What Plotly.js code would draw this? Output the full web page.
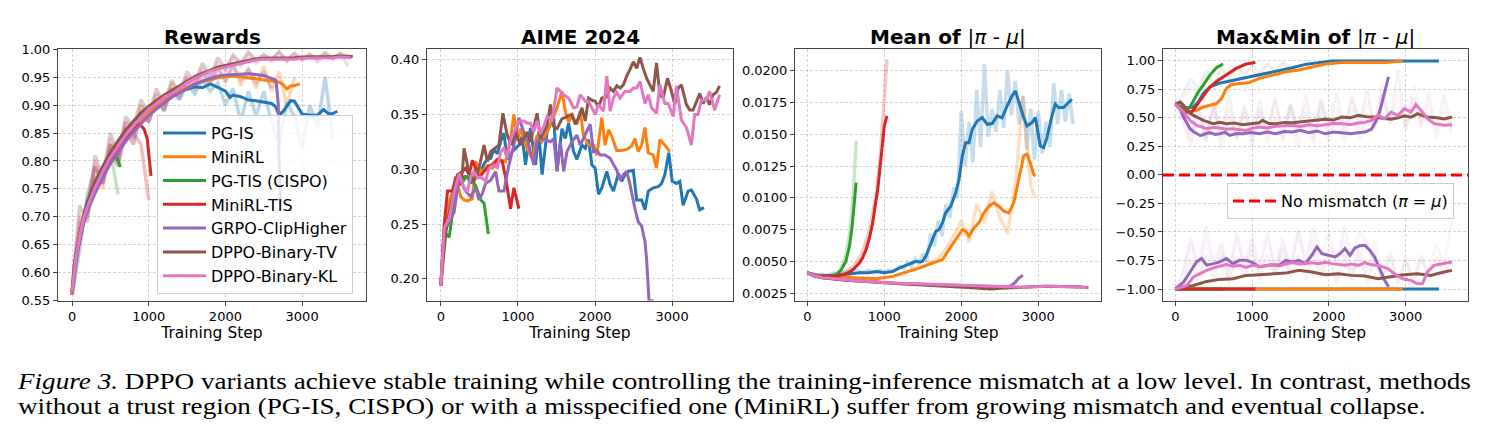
<!DOCTYPE html>
<html>
<head>
<meta charset="utf-8">
<script src="https://cdn.plot.ly/plotly-3.0.1.min.js"></script>
<style>
  html, body { margin: 0; padding: 0; background: #fff; }
  #wrap { position: relative; width: 1491px; height: 440px; overflow: hidden; }
  #chart { width: 1491px; height: 440px; }
  #caption {
    position: absolute; left: 18px; top: 369px;
    font-family: 'Liberation Serif', 'Times New Roman', serif; font-size: 23px; line-height: 25px;
    color: #000; white-space: nowrap;
    transform: scaleX(1.18); transform-origin: 0 0;
  }
</style>
</head>
<body>
<div id="wrap">
  <div id="chart"></div>
  <div id="caption"></div>
</div>
<script>
// ---------- helpers for step grids (x positions only) ----------
const grid = (a, b, d) => { const s = []; for (let v = a; v <= b + 1e-9; v += d) s.push(v); return s; };
const EARLY = [0, 25, 50, 100, 150, 200];

// ---------- methods ----------
const METHODS = ['PG-IS', 'MiniRL', 'PG-TIS (CISPO)', 'MiniRL-TIS', 'GRPO-ClipHigher', 'DPPO-Binary-TV', 'DPPO-Binary-KL'];
const COLORS  = ['#1f77b4', '#ff7f0e', '#2ca02c', '#d62728', '#9467bd', '#8c564b', '#e377c2'];

// ---------- Rewards: smoothed ----------
const rwStepPGIS = EARLY.concat(grid(300, 2000, 100), [2060, 2100, 2200, 2300, 2400, 2500, 2600, 2650, 2700, 2760, 2850, 2900, 2960, 3000, 3100, 3200, 3280, 3350, 3400, 3460]);
const rwPGIS = [0.565, 0.597, 0.622, 0.658, 0.690, 0.712, 0.746, 0.774, 0.799, 0.820, 0.840, 0.857, 0.873, 0.887, 0.899, 0.909, 0.918, 0.924, 0.929, 0.933, 0.931, 0.938, 0.932, 0.925,
  0.914, 0.918, 0.915, 0.909, 0.908, 0.906, 0.903, 0.898, 0.882, 0.890, 0.908, 0.907, 0.893, 0.884, 0.882, 0.882, 0.892, 0.884, 0.885, 0.889];
const rwStepMiniRL = EARLY.concat(grid(300, 2700, 100), [2750, 2800, 2850, 2900, 2970]);
const rwMiniRL = [0.565, 0.600, 0.625, 0.660, 0.692, 0.714, 0.748, 0.776, 0.800, 0.821, 0.840, 0.857, 0.872, 0.886, 0.898, 0.908, 0.916, 0.925, 0.932, 0.938, 0.942, 0.946, 0.949, 0.951,
  0.952, 0.951, 0.949, 0.947, 0.946, 0.944, 0.941, 0.937, 0.929, 0.934, 0.935, 0.938];
const rwStepCISPO = EARLY.concat([300, 400, 500, 560, 600, 630]);
const rwCISPO = [0.565, 0.600, 0.625, 0.660, 0.692, 0.714, 0.748, 0.776, 0.800, 0.814, 0.800, 0.789];
const rwStepMiniRLTIS = EARLY.concat([300, 400, 500, 600, 700, 800, 880, 940, 980, 1010, 1030]);
const rwMiniRLTIS = [0.565, 0.600, 0.625, 0.660, 0.692, 0.714, 0.749, 0.778, 0.803, 0.825, 0.843, 0.859, 0.866, 0.857, 0.840, 0.800, 0.773];
const rwStepGRPO = EARLY.concat(grid(300, 2600, 100), [2660, 2690, 2700, 2720]);
const rwGRPO = [0.565, 0.595, 0.620, 0.657, 0.688, 0.710, 0.742, 0.770, 0.795, 0.815, 0.835, 0.852, 0.867, 0.881, 0.893, 0.904, 0.914, 0.922, 0.930, 0.937, 0.943, 0.948, 0.952, 0.954,
  0.955, 0.956, 0.956, 0.955, 0.953, 0.948, 0.944, 0.900, 0.800, 0.720];
const rwStepTV = EARLY.concat(grid(300, 3600, 100), [3660]);
const rwTV = [0.565, 0.610, 0.635, 0.672, 0.703, 0.727, 0.762, 0.790, 0.815, 0.836, 0.855, 0.871, 0.886, 0.898, 0.908, 0.918, 0.926, 0.934, 0.943, 0.951, 0.957, 0.963, 0.968, 0.971,
  0.974, 0.978, 0.981, 0.983, 0.984, 0.984, 0.985, 0.985, 0.985, 0.986, 0.986, 0.986, 0.987, 0.987, 0.988, 0.987, 0.987];
const rwStepKL = EARLY.concat(grid(300, 3600, 100), [3640]);
const rwKL = [0.565, 0.600, 0.627, 0.665, 0.697, 0.718, 0.752, 0.781, 0.806, 0.826, 0.846, 0.862, 0.878, 0.893, 0.903, 0.914, 0.921, 0.931, 0.940, 0.948, 0.955, 0.961, 0.965, 0.968,
  0.971, 0.975, 0.978, 0.981, 0.982, 0.982, 0.983, 0.983, 0.982, 0.984, 0.984, 0.985, 0.984, 0.985, 0.986, 0.985, 0.985];

// ---------- Rewards: raw (every 100 steps) ----------
const rawRwPGIS = [0.56, 0.64, 0.74, 0.79, 0.76, 0.83, 0.80, 0.86, 0.84, 0.89, 0.87, 0.91, 0.89, 0.93, 0.91, 0.94, 0.92, 0.945, 0.925, 0.94, 0.90, 0.93, 0.87, 0.925, 0.88, 0.925, 0.87, 0.83, 0.905, 0.88, 0.82, 0.90, 0.86, 0.95, 0.84];
const rawRwMiniRL = [0.56, 0.69, 0.71, 0.79, 0.75, 0.83, 0.79, 0.86, 0.83, 0.90, 0.87, 0.92, 0.89, 0.94, 0.915, 0.95, 0.93, 0.96, 0.935, 0.97, 0.94, 0.975, 0.935, 0.965, 0.93, 0.97, 0.925, 0.96, 0.90, 0.95];
const rawRwCISPO = [0.56, 0.66, 0.73, 0.77, 0.78, 0.82, 0.74];
const rawRwMiniRLTIS = [0.56, 0.68, 0.72, 0.79, 0.76, 0.83, 0.80, 0.87, 0.85, 0.83, 0.73];
const rawRwGRPO = [0.56, 0.68, 0.70, 0.77, 0.76, 0.82, 0.79, 0.85, 0.83, 0.88, 0.87, 0.91, 0.89, 0.93, 0.91, 0.945, 0.93, 0.96, 0.94, 0.965, 0.945, 0.97, 0.945, 0.965, 0.94, 0.96, 0.93];
const rawRwTV = [0.57, 0.72, 0.69, 0.81, 0.77, 0.85, 0.81, 0.88, 0.86, 0.91, 0.88, 0.93, 0.90, 0.945, 0.92, 0.96, 0.94, 0.975, 0.95, 0.985, 0.965, 0.99, 0.975, 0.995, 0.98, 0.99, 0.982, 0.995, 0.98, 0.993, 0.982, 0.99, 0.983, 0.994, 0.984, 0.992, 0.985];
const rawRwKL = [0.56, 0.70, 0.70, 0.80, 0.76, 0.84, 0.80, 0.87, 0.84, 0.90, 0.87, 0.92, 0.90, 0.93, 0.925, 0.95, 0.94, 0.965, 0.95, 0.975, 0.96, 0.985, 0.97, 0.99, 0.975, 0.99, 0.98, 0.995, 0.978, 0.99, 0.98, 0.992, 0.978, 0.99, 0.982, 0.993, 0.97];

// ---------- AIME 2024 ----------
const aStepPGIS = [0, 43, 86, 129, 172, 215, 258, 301, 344, 387, 430, 473, 516, 560, 603, 646, 689, 732, 775, 818, 861, 926, 1012, 1055, 1098, 1162, 1227, 1270, 1313, 1378,
  1464, 1507, 1571, 1614, 1657, 1722, 1765, 1830, 1873, 1916, 1959, 2002, 2045, 2088, 2153, 2196, 2239, 2303, 2346, 2389, 2432, 2497, 2540, 2605, 2648, 2691, 2755, 2820, 2863, 2906,
  2957, 3001, 3057, 3100, 3143, 3207, 3250, 3315, 3358, 3414];
const aPGIS = [0.194, 0.245, 0.262, 0.268, 0.283, 0.290, 0.292, 0.293, 0.293, 0.287, 0.295, 0.300, 0.297, 0.305, 0.309, 0.310, 0.318, 0.314, 0.325, 0.333, 0.309, 0.316, 0.322, 0.330, 0.304, 0.3375, 0.304, 0.334, 0.295, 0.334,
  0.347, 0.298, 0.337, 0.328, 0.342, 0.316, 0.309, 0.322, 0.319, 0.327, 0.304, 0.301, 0.277, 0.283, 0.298, 0.286, 0.280, 0.296, 0.289, 0.295, 0.298, 0.299, 0.272, 0.272, 0.263, 0.280, 0.283, 0.284, 0.287, 0.295,
  0.315, 0.289, 0.287, 0.289, 0.267, 0.280, 0.281, 0.273, 0.263, 0.265];
const aStepMiniRL = [0, 30, 65, 108, 150, 200, 258, 301, 344, 409, 452, 517, 603, 667, 753, 840, 904, 947, 990, 1033, 1098, 1184, 1248, 1313, 1378, 1442, 1507, 1571, 1614, 1657,
  1700, 1765, 1808, 1851, 1916, 1980, 2024, 2088, 2131, 2174, 2217, 2282, 2346, 2411, 2475, 2518, 2561, 2605, 2648, 2691, 2755, 2798, 2841, 2906, 2970];
const aMiniRL = [0.194, 0.22, 0.255, 0.27, 0.28, 0.29, 0.275, 0.272, 0.271, 0.273, 0.307, 0.297, 0.303, 0.301, 0.309, 0.307, 0.328, 0.350, 0.326, 0.337, 0.322, 0.310, 0.331, 0.325, 0.334, 0.344, 0.356, 0.371, 0.353, 0.343,
  0.349, 0.341, 0.353, 0.331, 0.322, 0.322, 0.313, 0.347, 0.322, 0.336, 0.330, 0.317, 0.317, 0.318, 0.321, 0.328, 0.316, 0.322, 0.338, 0.315, 0.313, 0.301, 0.327, 0.322, 0.316];
const aStepCISPO = [0, 43, 108, 151, 215, 280, 323, 387, 452, 517, 560, 616];
const aCISPO = [0.194, 0.243, 0.238, 0.262, 0.293, 0.288, 0.293, 0.291, 0.285, 0.272, 0.269, 0.241];
const aStepMiniRLTIS = [0, 43, 86, 151, 194, 237, 280, 323, 366, 409, 452, 495, 560, 624, 667, 732, 796, 839, 904, 947, 1012];
const aMiniRLTIS = [0.194, 0.249, 0.280, 0.280, 0.293, 0.285, 0.298, 0.301, 0.295, 0.308, 0.301, 0.292, 0.298, 0.303, 0.304, 0.309, 0.307, 0.293, 0.264, 0.283, 0.264];
const aStepGRPO = [0, 43, 108, 172, 237, 280, 323, 387, 452, 495, 538, 581, 646, 710, 753, 818, 883, 947, 1012, 1076, 1141, 1205, 1248, 1291, 1356, 1421, 1464, 1507, 1550, 1593,
  1636, 1700, 1765, 1808, 1873, 1937, 1980, 2024, 2067, 2131, 2196, 2239, 2282, 2325, 2368, 2411, 2454, 2518, 2561, 2605, 2648, 2669, 2691, 2700, 2760];
const aGRPO = [0.194, 0.243, 0.252, 0.261, 0.293, 0.287, 0.280, 0.275, 0.283, 0.272, 0.278, 0.287, 0.290, 0.298, 0.280, 0.280, 0.304, 0.322, 0.347, 0.334, 0.322, 0.304, 0.325, 0.328, 0.327, 0.325, 0.328, 0.299, 0.325, 0.298,
  0.316, 0.325, 0.331, 0.322, 0.331, 0.341, 0.316, 0.317, 0.313, 0.313, 0.310, 0.304, 0.299, 0.290, 0.295, 0.298, 0.286, 0.264, 0.252, 0.248, 0.234, 0.218, 0.182, 0.180, 0.180];
const aStepTV = [0, 65, 108, 172, 215, 280, 301, 344, 387, 430, 495, 560, 603, 646, 710, 753, 805, 861, 917, 969, 1033, 1076, 1119, 1162, 1205, 1248, 1291, 1335, 1378, 1421,
  1464, 1507, 1571, 1636, 1700, 1744, 1787, 1830, 1873, 1916, 1959, 2002, 2045, 2088, 2153, 2196, 2239, 2282, 2325, 2368, 2411, 2454, 2497, 2540, 2583, 2626, 2669, 2712, 2755, 2798,
  2841, 2884, 2940, 2992, 3035, 3078, 3121, 3186, 3229, 3272, 3315, 3358, 3401, 3444, 3487, 3530, 3573, 3616];
const aTV = [0.194, 0.243, 0.260, 0.280, 0.295, 0.298, 0.319, 0.304, 0.293, 0.289, 0.301, 0.322, 0.307, 0.316, 0.320, 0.322, 0.351, 0.331, 0.322, 0.334, 0.322, 0.328, 0.334, 0.325, 0.338, 0.351, 0.328, 0.334, 0.340, 0.359,
  0.339, 0.337, 0.346, 0.348, 0.350, 0.341, 0.347, 0.356, 0.344, 0.365, 0.363, 0.362, 0.357, 0.365, 0.366, 0.374, 0.371, 0.376, 0.374, 0.377, 0.385, 0.391, 0.398, 0.392, 0.402, 0.392, 0.383, 0.377, 0.371, 0.397,
  0.368, 0.365, 0.383, 0.371, 0.359, 0.374, 0.377, 0.359, 0.354, 0.354, 0.362, 0.369, 0.360, 0.365, 0.359, 0.368, 0.370, 0.376];
const aStepKL = [0, 43, 108, 172, 237, 301, 344, 387, 430, 474, 517, 581, 624, 689, 732, 775, 818, 861, 904, 947, 1012, 1076, 1119, 1162, 1205, 1248, 1291, 1335, 1378, 1442,
  1507, 1550, 1593, 1657, 1722, 1765, 1808, 1873, 1916, 1959, 2002, 2045, 2110, 2153, 2196, 2239, 2282, 2325, 2389, 2454, 2497, 2540, 2583, 2648, 2691, 2734, 2798, 2841, 2906, 2949,
  3014, 3057, 3121, 3186, 3250, 3293, 3336, 3379, 3444, 3487, 3552, 3616];
const aKL = [0.194, 0.246, 0.255, 0.279, 0.296, 0.282, 0.280, 0.293, 0.298, 0.292, 0.293, 0.289, 0.301, 0.304, 0.301, 0.316, 0.319, 0.310, 0.327, 0.334, 0.344, 0.344, 0.342, 0.342, 0.334, 0.344, 0.332, 0.339, 0.348, 0.345,
  0.374, 0.371, 0.368, 0.365, 0.356, 0.357, 0.368, 0.362, 0.362, 0.356, 0.350, 0.359, 0.353, 0.385, 0.353, 0.365, 0.370, 0.365, 0.371, 0.371, 0.374, 0.374, 0.380, 0.360, 0.368, 0.356, 0.351, 0.377, 0.360, 0.360,
  0.348, 0.376, 0.345, 0.338, 0.322, 0.350, 0.350, 0.363, 0.363, 0.371, 0.354, 0.368];

// ---------- Mean of |pi - mu|: smoothed ----------
const mStepPGIS = [0, 100, 246, 400, 550, 677, 800, 892, 1000, 1108, 1194, 1250, 1323, 1409, 1460, 1496, 1539, 1603, 1668, 1711, 1754, 1797, 1862, 1927, 1970, 2013, 2056, 2099, 2142, 2207,
  2272, 2336, 2401, 2466, 2530, 2595, 2659, 2703, 2746, 2810, 2853, 2918, 2961, 3026, 3069, 3112, 3177, 3220, 3263, 3328, 3371, 3435];
const mPGIS = [0.0041, 0.00395, 0.00387, 0.0039, 0.0040, 0.0041, 0.0041, 0.0042, 0.0041, 0.0042, 0.00447, 0.0046, 0.00474, 0.0050, 0.00495, 0.0050, 0.0054, 0.00645, 0.00737, 0.0075,
  0.00803, 0.00882, 0.00934, 0.0104, 0.01145, 0.0133, 0.01434, 0.01434, 0.0154, 0.01605, 0.01632, 0.01579, 0.01585, 0.01645, 0.0163, 0.01724, 0.01803, 0.01842, 0.0175, 0.01632,
  0.01566, 0.01592, 0.01632, 0.01408, 0.01395, 0.01474, 0.01645, 0.01737, 0.01711, 0.01711, 0.01737, 0.01776];
const mStepMiniRL = [0, 100, 200, 400, 677, 892, 1108, 1280, 1453, 1625, 1754, 1840, 1927, 2013, 2056, 2099, 2164, 2228, 2293, 2358, 2422, 2487, 2552, 2616, 2681, 2746, 2810, 2853, 2896, 2940, 2961];
const mMiniRL = [0.0041, 0.0039, 0.00382, 0.00375, 0.00368, 0.00363, 0.00382, 0.00413, 0.00447, 0.00487, 0.00513, 0.00592, 0.00671, 0.0075, 0.00737, 0.0070, 0.00763, 0.00803, 0.00882, 0.00934,
  0.0096, 0.00934, 0.00895, 0.00882, 0.0096, 0.01145, 0.0133, 0.01342, 0.01276, 0.01184, 0.01171];
const mStepCISPO = [0, 100, 200, 300, 375, 440, 500, 547, 582, 612, 634];
const mCISPO = [0.0041, 0.00387, 0.00382, 0.00385, 0.00395, 0.00434, 0.0050, 0.00618, 0.00776, 0.0096, 0.0112];
const mStepMiniRLTIS = [0, 100, 200, 300, 400, 461, 530, 590, 640, 677, 720, 763, 810, 849, 880, 914, 940, 957, 980, 1000, 1034];
const mMiniRLTIS = [0.0041, 0.00385, 0.0038, 0.00382, 0.00387, 0.00395, 0.0041, 0.00434, 0.0046, 0.00487, 0.0053, 0.00592, 0.0069, 0.00803, 0.0093, 0.01066, 0.0121, 0.0133, 0.0145, 0.01566, 0.01645];
const mStepGRPO = grid(0, 2600, 100).concat([2650, 2700, 2750, 2800]);
const mGRPO = [0.0041, 0.00384, 0.00371, 0.00364, 0.00359, 0.00354, 0.00349, 0.00344, 0.00339, 0.00335, 0.00332, 0.00329, 0.00326, 0.00324, 0.00321, 0.00319, 0.00316, 0.00314, 0.00312, 0.0031,
  0.00308, 0.00307, 0.00305, 0.00303, 0.00301, 0.00299, 0.00298, 0.0031, 0.00335, 0.0037, 0.0039];
const mStepTV = grid(0, 3600, 100).concat([3650]);
const mTV = [0.0041, 0.00383, 0.0037, 0.00362, 0.00357, 0.00352, 0.00347, 0.00342, 0.00338, 0.00334, 0.0033, 0.00327, 0.00324, 0.00321, 0.00318, 0.00315, 0.00312, 0.00308, 0.00304, 0.003,
  0.00295, 0.00292, 0.0029, 0.00285, 0.00283, 0.00288, 0.00292, 0.00296, 0.00299, 0.00302, 0.00303, 0.00304, 0.00304, 0.00303, 0.00302, 0.003, 0.00297, 0.00295];
const mStepKL = grid(0, 3600, 100).concat([3640]);
const mKL = [0.0041, 0.00385, 0.00372, 0.00365, 0.0036, 0.00355, 0.0035, 0.00345, 0.0034, 0.00336, 0.00333, 0.0033, 0.00327, 0.00325, 0.00322, 0.0032, 0.00317, 0.00315, 0.00313, 0.00311,
  0.00309, 0.00308, 0.00306, 0.00304, 0.00302, 0.003, 0.00299, 0.00298, 0.00297, 0.00299, 0.00303, 0.00305, 0.00304, 0.00303, 0.00301, 0.00298, 0.00294, 0.00293];

// ---------- Mean of |pi - mu|: raw ----------
const rawMStepPGIS = grid(0, 3450, 50);
const rawMPGIS = [0.0041, 0.0040, 0.0039, 0.0039, 0.0040, 0.0039, 0.0040, 0.0041, 0.0040, 0.0041, 0.0042, 0.0041, 0.0042, 0.0043, 0.0041, 0.0042, 0.0043, 0.0041, 0.0042, 0.0043, 0.0041, 0.0043, 0.0042, 0.0044,
  0.0046, 0.0044, 0.0049, 0.0046, 0.0052, 0.0048,
  0.0056, 0.0050, 0.0072, 0.0062, 0.0082, 0.0070, 0.0095, 0.0084, 0.0108, 0.0100,
  0.0168, 0.0125, 0.0160, 0.0128, 0.0185, 0.0140, 0.0205, 0.0148, 0.0170, 0.0152,
  0.0185, 0.0155, 0.0200, 0.0165, 0.0192, 0.0158, 0.0180, 0.0138, 0.0170, 0.0130,
  0.0168, 0.0135, 0.0160, 0.0140, 0.0190, 0.0158, 0.0185, 0.0160, 0.0182, 0.0158];
const rawMStepMiniRL = grid(0, 2900, 100).concat([2960]);
const rawMMiniRL = [0.0041, 0.0038, 0.0037, 0.0038, 0.0037, 0.0036, 0.0037, 0.0036, 0.0037, 0.0036, 0.0037, 0.0038, 0.0040, 0.0042, 0.0045, 0.0046, 0.0050, 0.0052, 0.0060, 0.0070,
  0.0082, 0.0065, 0.0095, 0.0080, 0.0105, 0.0085, 0.0072, 0.0110, 0.0180, 0.0110, 0.0100];
const rawMStepCISPO = [0, 100, 200, 300, 400, 450, 500, 550, 600, 634];
const rawMCISPO = [0.0041, 0.0039, 0.0038, 0.0039, 0.0041, 0.0046, 0.0055, 0.0072, 0.0105, 0.0145];
const rawMStepMiniRLTIS = [0, 100, 200, 300, 400, 500, 600, 700, 800, 900, 950, 1000, 1034];
const rawMMiniRLTIS = [0.0041, 0.0039, 0.0038, 0.0038, 0.0039, 0.0042, 0.0046, 0.0055, 0.0072, 0.0105, 0.0135, 0.0175, 0.0209];

// ---------- Max&Min of |pi - mu|: smoothed max ----------
const topStepPGIS = [0, 129, 236, 300, 365, 451, 558, 665, 837, 1009, 1180, 1352, 1524, 1695, 1867, 2039, 2382, 2983, 3433];
const topPGIS = [0.62, 0.58, 0.595, 0.64, 0.713, 0.77, 0.80, 0.815, 0.845, 0.865, 0.889, 0.912, 0.938, 0.968, 0.985, 0.998, 0.998, 0.995, 0.997];
const topStepMiniRL = [0, 150, 279, 365, 451, 536, 601, 665, 730, 837, 966, 1094, 1266, 1438, 1609, 1781, 1953, 2167, 2468, 2725, 2961];
const topMiniRL = [0.62, 0.55, 0.566, 0.595, 0.61, 0.625, 0.669, 0.757, 0.792, 0.80, 0.81, 0.845, 0.874, 0.903, 0.918, 0.947, 0.971, 0.985, 0.982, 0.985, 0.997];
const topStepCISPO = [0, 129, 193, 236, 300, 365, 451, 536, 622];
const topCISPO = [0.62, 0.58, 0.595, 0.654, 0.727, 0.786, 0.874, 0.938, 0.971];
const topStepMiniRLTIS = [0, 129, 215, 279, 365, 451, 558, 665, 794, 923, 1043];
const topMiniRLTIS = [0.62, 0.55, 0.55, 0.61, 0.698, 0.77, 0.83, 0.88, 0.933, 0.971, 0.985];
const topStepGRPO = [0, 60, 107, 150, 193, 236, 279, 322, 365, 408, 451, 520, 579, 650, 708, 790, 880, 980, 1094, 1200,
  1309, 1420, 1524, 1630, 1738, 1850, 1953, 2060, 2167, 2280, 2382, 2470, 2554, 2618, 2661, 2704, 2747, 2777];
const topGRPO = [0.62, 0.58, 0.507, 0.45, 0.405, 0.38, 0.36, 0.345, 0.352, 0.365, 0.37, 0.355, 0.36, 0.372, 0.346, 0.36, 0.36, 0.372, 0.36, 0.375,
  0.36, 0.38, 0.375, 0.39, 0.37, 0.385, 0.36, 0.375, 0.37, 0.36, 0.37, 0.375, 0.40, 0.478, 0.55, 0.669, 0.786, 0.859];
const topStepTV = [0, 64, 129, 193, 279, 365, 494, 580, 665, 770, 880, 990, 1094, 1137, 1220, 1309, 1420, 1524, 1630, 1738,
  1850, 1953, 2060, 2167, 2280, 2382, 2490, 2597, 2700, 2811, 2900, 2983, 3070, 3155, 3220, 3283, 3412, 3500, 3605];
const topTV = [0.62, 0.639, 0.595, 0.537, 0.507, 0.478, 0.449, 0.46, 0.449, 0.455, 0.44, 0.45, 0.457, 0.478, 0.45, 0.449, 0.46, 0.457, 0.465, 0.469,
  0.475, 0.487, 0.48, 0.507, 0.50, 0.522, 0.51, 0.507, 0.495, 0.487, 0.50, 0.517, 0.505, 0.537, 0.52, 0.507, 0.50, 0.49, 0.507];
const topStepKL = [0, 107, 193, 279, 408, 500, 579, 665, 751, 840, 923, 1010, 1094, 1200, 1309, 1420, 1524, 1630, 1738, 1850,
  1953, 2060, 2167, 2280, 2382, 2470, 2554, 2640, 2725, 2811, 2897, 2983, 3069, 3133, 3198, 3283, 3369, 3498, 3605];
const topKL = [0.62, 0.55, 0.478, 0.434, 0.405, 0.415, 0.41, 0.40, 0.405, 0.395, 0.39, 0.41, 0.42, 0.41, 0.425, 0.43, 0.434, 0.425, 0.44, 0.43,
  0.44, 0.45, 0.449, 0.44, 0.455, 0.46, 0.478, 0.522, 0.493, 0.55, 0.52, 0.58, 0.55, 0.616, 0.566, 0.493, 0.449, 0.434, 0.44];

// ---------- Max&Min of |pi - mu|: smoothed min ----------
const botStepPGIS = [0, 3433];
const botPGIS = [-1.0, -1.0];
const botStepMiniRL = [0, 2961];
const botMiniRL = [-1.0, -1.0];
const botStepCISPO = [0, 622];
const botCISPO = [-1.0, -1.0];
const botStepMiniRLTIS = [0, 1043];
const botMiniRLTIS = [-1.0, -1.0];
const botStepGRPO = [0, 107, 193, 279, 343, 408, 494, 579, 665, 751, 837, 923, 1009, 1094, 1223, 1352, 1438, 1524, 1609, 1695,
  1781, 1845, 1910, 1996, 2082, 2146, 2210, 2275, 2339, 2403, 2468, 2532, 2597, 2661, 2725, 2777];
const botGRPO = [-1.0, -0.94, -0.85, -0.76, -0.733, -0.79, -0.777, -0.762, -0.733, -0.777, -0.748, -0.748, -0.768, -0.806, -0.79, -0.79, -0.748, -0.762, -0.748, -0.777,
  -0.70, -0.63, -0.69, -0.704, -0.718, -0.69, -0.645, -0.704, -0.64, -0.62, -0.616, -0.66, -0.72, -0.82, -0.92, -0.98];
const botStepTV = [0, 236, 408, 579, 751, 923, 1094, 1266, 1438, 1609, 1781, 1953, 2125, 2296, 2468, 2640, 2811, 2983, 3155, 3326, 3498, 3605];
const botTV = [-1.0, -0.968, -0.933, -0.915, -0.909, -0.88, -0.874, -0.865, -0.86, -0.836, -0.85, -0.874, -0.865, -0.88, -0.886, -0.91, -0.894, -0.874, -0.865, -0.88, -0.85, -0.836];
const botStepKL = [0, 150, 236, 322, 408, 536, 665, 751, 837, 923, 1009, 1094, 1180, 1266, 1352, 1438, 1524, 1609, 1695, 1781,
  1867, 1953, 2039, 2125, 2210, 2296, 2382, 2468, 2554, 2640, 2768, 2854, 2961, 3069, 3155, 3219, 3283, 3369, 3498, 3605];
const botKL = [-1.0, -0.968, -0.894, -0.865, -0.836, -0.806, -0.786, -0.80, -0.792, -0.81, -0.792, -0.80, -0.798, -0.785, -0.798, -0.78, -0.768, -0.78, -0.777, -0.77,
  -0.777, -0.765, -0.777, -0.785, -0.792, -0.78, -0.792, -0.768, -0.786, -0.792, -0.82, -0.865, -0.91, -0.924, -0.953, -0.953, -0.85, -0.792, -0.777, -0.762];

// ---------- Max&Min of |pi - mu|: raw (every 100 steps) ----------
const rawTopPGIS = [0.62, 0.70, 0.85, 0.75, 0.92, 0.80, 0.95, 0.85, 0.95, 0.88, 0.96, 0.90, 0.97, 0.92, 0.98, 0.95];
const rawTopMiniRL = [0.62, 0.65, 0.78, 0.70, 0.88, 0.75, 0.92, 0.82, 0.95, 0.85, 0.96, 0.86, 0.97, 0.90, 0.98, 0.92];
const rawTopGRPO = [0.62, 0.45, 0.25, 0.55, 0.30, 0.60, 0.22, 0.50, 0.30, 0.55, 0.25, 0.58, 0.28, 0.50, 0.30, 0.62, 0.25, 0.55, 0.28, 0.60, 0.30, 0.52, 0.28, 0.58, 0.30, 0.55, 0.45, 0.80];
const rawTopTV = [0.62, 0.55, 0.35, 0.65, 0.32, 0.62, 0.35, 0.70, 0.33, 0.60, 0.38, 0.65, 0.35, 0.68, 0.38, 0.62, 0.40, 0.70, 0.38, 0.65, 0.42, 0.72, 0.40, 0.68, 0.45, 0.75, 0.40, 0.70, 0.45, 0.92, 0.40, 0.68, 0.42, 0.72, 0.38, 0.70, 0.40];
const rawTopKL = [0.62, 0.50, 0.30, 0.60, 0.28, 0.65, 0.30, 0.58, 0.32, 0.62, 0.30, 0.55, 0.35, 0.65, 0.30, 0.60, 0.35, 0.62, 0.32, 0.68, 0.35, 0.60, 0.38, 0.70, 0.40, 0.65, 0.42, 0.75, 0.45, 0.70, 0.40, 0.80, 0.45, 0.62, 0.30, 0.58, 0.35];
const rawBotGRPO = [-1.0, -0.85, -0.55, -0.80, -0.45, -0.75, -0.60, -0.85, -0.50, -0.80, -0.55, -0.78, -0.50, -0.85, -0.55, -0.80, -0.48, -0.75, -0.45, -0.70, -0.50, -0.78, -0.45, -0.72, -0.50, -0.60, -0.80, -0.90, -0.98];
const rawBotTV = [-1.0, -0.95, -0.75, -0.95, -0.70, -0.92, -0.68, -0.95, -0.72, -0.90, -0.65, -0.92, -0.70, -0.88, -0.65, -0.90, -0.70, -0.92, -0.68, -0.90, -0.72, -0.95, -0.70, -0.92, -0.68, -0.95, -0.72, -0.93, -0.70, -0.95, -0.75, -0.92, -0.70, -0.90, -0.72, -0.88, -0.75];
const rawBotKL = [-1.0, -0.90, -0.60, -0.88, -0.55, -0.85, -0.62, -0.90, -0.55, -0.85, -0.60, -0.88, -0.55, -0.82, -0.60, -0.85, -0.50, -0.82, -0.55, -0.85, -0.60, -0.80, -0.55, -0.88, -0.60, -0.85, -0.58, -0.90, -0.65, -0.95, -0.70, -0.98, -0.75, -0.85, -0.60, -0.80, -0.40];

const NO_MISMATCH = 0.0;

// ---------- axis ranges ----------
const X_RANGES = [[-183, 3833], [-180, 3790], [-160, 3814], [-160, 3812]];
const Y_RANGES = [[0.55, 1.0], [0.1802, 0.4094], [0.00192, 0.02169], [-1.1, 1.1]];

// ---------- layout geometry (pixels in a 1491 x 440 page) ----------
const W = 1491, H = 440;
const PANEL_X = [[58, 366], [427, 733], [795, 1101], [1163, 1468]];
const PANEL_Y = [49.3, 300.5];
const px = v => v / W;
const py = v => 1 - v / H;

// ---------- trace builders ----------
const traces = [];
function addLine(panel, x, y, color, opts = {}) {
  const suffix = panel === 1 ? '' : String(panel);
  traces.push(Object.assign({
    type: 'scatter', mode: 'lines', x, y,
    xaxis: 'x' + suffix, yaxis: 'y' + suffix,
    line: { color, width: 3 },
    hoverinfo: 'skip', showlegend: false
  }, opts));
}
function addRaw(panel, x, y, color, alpha, width) {
  addLine(panel, x, y, color, { opacity: alpha, line: { color, width } });
}

// Panel 1: Rewards
const RAW1 = 0.3;
addRaw(1, grid(0, 3400, 100), rawRwPGIS, COLORS[0], RAW1, 3.5);
addRaw(1, grid(0, 2900, 100), rawRwMiniRL, COLORS[1], RAW1, 3.5);
addRaw(1, grid(0, 600, 100), rawRwCISPO, COLORS[2], RAW1, 3.5);
addRaw(1, grid(0, 1000, 100), rawRwMiniRLTIS, COLORS[3], RAW1, 3.5);
addRaw(1, grid(0, 2600, 100), rawRwGRPO, COLORS[4], RAW1, 3.5);
addRaw(1, grid(0, 3600, 100), rawRwTV, COLORS[5], RAW1, 3.5);
addRaw(1, grid(0, 3600, 100), rawRwKL, COLORS[6], RAW1, 3.5);
const rwX = [rwStepPGIS, rwStepMiniRL, rwStepCISPO, rwStepMiniRLTIS, rwStepGRPO, rwStepTV, rwStepKL];
const rwY = [rwPGIS, rwMiniRL, rwCISPO, rwMiniRLTIS, rwGRPO, rwTV, rwKL];
METHODS.forEach((name, i) => addLine(1, rwX[i], rwY[i], COLORS[i], { name, showlegend: true, legend: 'legend' }));

// Panel 2: AIME 2024
const aX = [aStepPGIS, aStepMiniRL, aStepCISPO, aStepMiniRLTIS, aStepGRPO, aStepTV, aStepKL];
const aY = [aPGIS, aMiniRL, aCISPO, aMiniRLTIS, aGRPO, aTV, aKL];
METHODS.forEach((name, i) => addLine(2, aX[i], aY[i], COLORS[i], { name }));

// Panel 3: mean mismatch
addRaw(3, rawMStepPGIS, rawMPGIS, COLORS[0], 0.25, 3.5);
addRaw(3, rawMStepMiniRL, rawMMiniRL, COLORS[1], 0.25, 3.5);
addRaw(3, rawMStepCISPO, rawMCISPO, COLORS[2], 0.25, 3.5);
addRaw(3, rawMStepMiniRLTIS, rawMMiniRLTIS, COLORS[3], 0.25, 3.5);
const mX = [mStepPGIS, mStepMiniRL, mStepCISPO, mStepMiniRLTIS, mStepGRPO, mStepTV, mStepKL];
const mY = [mPGIS, mMiniRL, mCISPO, mMiniRLTIS, mGRPO, mTV, mKL];
METHODS.forEach((name, i) => addLine(3, mX[i], mY[i], COLORS[i], { name }));

// Panel 4: max & min mismatch
const RAW4 = 0.08;
addRaw(4, grid(0, 1500, 100), rawTopPGIS, COLORS[0], RAW4, 3);
addRaw(4, grid(0, 1500, 100), rawTopMiniRL, COLORS[1], RAW4, 3);
addRaw(4, grid(0, 2700, 100), rawTopGRPO, COLORS[4], RAW4, 3);
addRaw(4, grid(0, 3600, 100), rawTopTV, COLORS[5], RAW4, 3);
addRaw(4, grid(0, 3600, 100), rawTopKL, COLORS[6], RAW4, 3);
addRaw(4, grid(0, 2800, 100), rawBotGRPO, COLORS[4], RAW4, 3);
addRaw(4, grid(0, 3600, 100), rawBotTV, COLORS[5], RAW4, 3);
addRaw(4, grid(0, 3600, 100), rawBotKL, COLORS[6], RAW4, 3);
const topX = [topStepPGIS, topStepMiniRL, topStepCISPO, topStepMiniRLTIS, topStepGRPO, topStepTV, topStepKL];
const topY = [topPGIS, topMiniRL, topCISPO, topMiniRLTIS, topGRPO, topTV, topKL];
const botX = [botStepPGIS, botStepMiniRL, botStepCISPO, botStepMiniRLTIS, botStepGRPO, botStepTV, botStepKL];
const botY = [botPGIS, botMiniRL, botCISPO, botMiniRLTIS, botGRPO, botTV, botKL];
METHODS.forEach((name, i) => {
  addLine(4, topX[i], topY[i], COLORS[i], { name });
  addLine(4, botX[i], botY[i], COLORS[i], { name });
});
addLine(4, X_RANGES[3], [NO_MISMATCH, NO_MISMATCH], '#ff0000', {
  name: 'No mismatch (<i>π</i> = <i>μ</i>)', showlegend: true, legend: 'legend2',
  line: { color: '#ff0000', width: 3, dash: '11px,5px' }
});

// ---------- axes ----------
const FONT = 'DejaVu Sans';
const axisCommon = {
  showline: true, mirror: true, linecolor: '#444', linewidth: 1,
  ticks: 'outside', ticklen: 4, tickwidth: 1, tickcolor: '#444',
  showgrid: true, gridcolor: 'rgba(160,160,160,0.45)', gridwidth: 1, griddash: '3px,2px',
  zeroline: false, automargin: false,
  tickfont: { family: FONT, size: 13, color: '#000' }
};
const Y_TICKS = [
  { tick0: 0.55, dtick: 0.05, tickformat: '.2f' },
  { tick0: 0.20, dtick: 0.05, tickformat: '.2f' },
  { tick0: 0.0025, dtick: 0.0025, tickformat: '.4f' },
  { tick0: -1.0, dtick: 0.25, tickformat: '.2f' }
];
const legendStyle = {
  xanchor: 'left', yanchor: 'top',
  bgcolor: 'rgba(255,255,255,0.8)', bordercolor: '#cccccc', borderwidth: 1,
  font: { family: FONT, size: 16, color: '#000' }, itemwidth: 43, tracegroupgap: 0
};

const layout = {
  width: W, height: H,
  margin: { l: 0, r: 0, t: 0, b: 0 },
  paper_bgcolor: '#fff', plot_bgcolor: '#fff',
  font: { family: FONT, size: 16, color: '#000' },
  legend: Object.assign({ x: px(157), y: py(115) }, legendStyle),
  legend2: Object.assign({ x: px(1227), y: py(183) }, legendStyle),
  annotations: []
};

const TITLES = ['<b>Rewards</b>', '<b>AIME 2024</b>', '<b>Mean of </b>|<i>π</i> - <i>μ</i>|', '<b>Max&amp;Min of </b>|<i>π</i> - <i>μ</i>|'];
for (let i = 0; i < 4; i++) {
  const s = i === 0 ? '' : String(i + 1);
  layout['xaxis' + s] = Object.assign({}, axisCommon, {
    domain: [px(PANEL_X[i][0]), px(PANEL_X[i][1])], range: X_RANGES[i], anchor: 'y' + s,
    tick0: 0, dtick: 1000,
    title: { text: 'Training Step', font: { family: FONT, size: 15.5, color: '#000' }, standoff: 2 }
  });
  layout['yaxis' + s] = Object.assign({}, axisCommon, Y_TICKS[i], {
    domain: [py(PANEL_Y[1]), py(PANEL_Y[0])], range: Y_RANGES[i], anchor: 'x' + s
  });
  layout.annotations.push({
    xref: 'paper', yref: 'paper', x: px((PANEL_X[i][0] + PANEL_X[i][1]) / 2), y: py(51),
    xanchor: 'center', yanchor: 'bottom', showarrow: false,
    text: TITLES[i], font: { family: FONT, size: 20, color: '#000' }
  });
}

Plotly.newPlot('chart', traces, layout, { staticPlot: true });

// ---------- caption ----------
const CAPTION_LEAD = 'Figure 3.';
const CAPTION_LINES = [
  ' DPPO variants achieve stable training while controlling the training-inference mismatch at a low level. In contrast, methods',
  'without a trust region (PG-IS, CISPO) or with a misspecified one (MiniRL) suffer from growing mismatch and eventual collapse.'
];
const cap = document.getElementById('caption');
const lead = document.createElement('i');
lead.textContent = CAPTION_LEAD;
cap.appendChild(lead);
cap.appendChild(document.createTextNode(CAPTION_LINES[0]));
cap.appendChild(document.createElement('br'));
cap.appendChild(document.createTextNode(CAPTION_LINES[1]));
</script>
</body>
</html>
